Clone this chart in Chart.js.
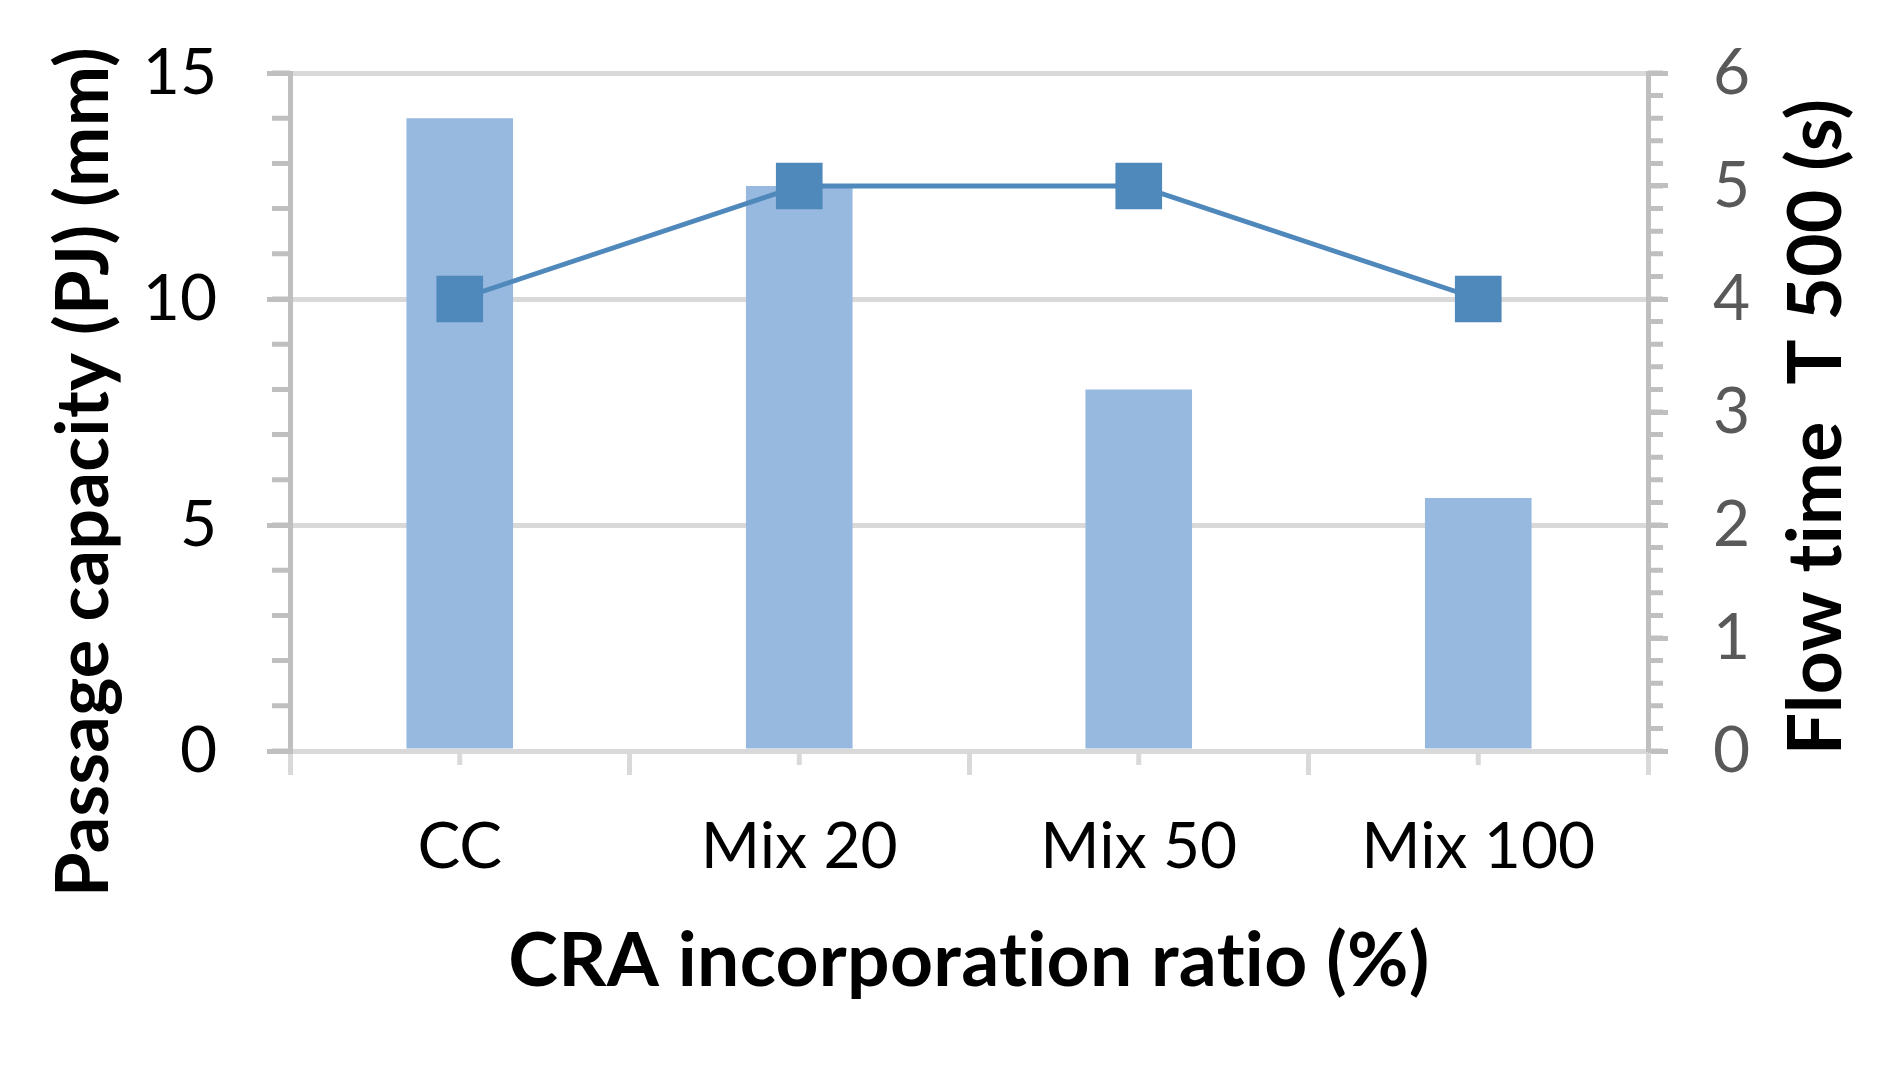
<!DOCTYPE html>
<html>
<head>
<meta charset="utf-8">
<script src="https://cdn.jsdelivr.net/npm/chart.js@4/dist/chart.umd.min.js"></script>
<style>
  html, body { margin: 0; padding: 0; background: #fff; }
  #wrap { width: 1902px; height: 1069px; }
</style>
</head>
<body>
<div id="wrap"><canvas id="flowChart"></canvas></div>
<script>
// data
const categories = ['CC', 'Mix 20', 'Mix 50', 'Mix 100']
const passageCapacity = [14, 12.5, 8, 5.6]   // left axis, bars
const flowTime = [4, 5, 5, 4]                // right axis, line
const leftTicks = [0, 5, 10, 15]
const rightTicks = [0, 1, 2, 3, 4, 5, 6]
const leftMinorStep = 1
const rightMinorStep = 0.2

const xTitle = 'CRA incorporation ratio (%)'
const leftTitle = 'Passage capacity (PJ) (mm)'
const rightTitle = 'Flow time  T 500 (s)'

const FONT = 'Lato'
const barColor = '#98b9df'
const lineColor = '#4f88bb'
const axisGray = '#bfbfbf'
const gridGray = '#d9d9d9'

// minor ticks (shorter) + centre ticks on the category axis
const minorTicks = {
  id: 'minorTicks',
  afterDraw(chart) {
    const ctx = chart.ctx
    const { x, y, y1 } = chart.scales
    ctx.save()
    ctx.lineWidth = 5
    ctx.strokeStyle = axisGray
    ctx.beginPath()
    let n = Math.round((y.max - y.min) / leftMinorStep)
    for (let i = 0; i <= n; i++) {
      const py = y.getPixelForValue(y.min + i * leftMinorStep)
      ctx.moveTo(y.right - 18, py)
      ctx.lineTo(y.right, py)
    }
    n = Math.round((y1.max - y1.min) / rightMinorStep)
    for (let i = 0; i <= n; i++) {
      const py = y1.getPixelForValue(y1.min + i * rightMinorStep)
      ctx.moveTo(y1.left, py)
      ctx.lineTo(y1.left + 15, py)
    }
    ctx.stroke()
    ctx.strokeStyle = gridGray
    ctx.beginPath()
    categories.forEach((c, i) => {
      const px = x.getPixelForValue(i)
      ctx.moveTo(px, x.top)
      ctx.lineTo(px, x.top + 14)
    })
    ctx.stroke()
    ctx.restore()
  }
}

// axis titles (letterSpacing keeps Lato from using its "ti" ligature)
const axisTitles = {
  id: 'axisTitles',
  afterDraw(chart) {
    const ctx = chart.ctx
    const area = chart.chartArea
    ctx.save()
    ctx.fillStyle = '#000'
    ctx.textAlign = 'center'
    ctx.textBaseline = 'alphabetic'
    ctx.letterSpacing = '0.3px'
    ctx.font = `bold 75px ${FONT}`
    ctx.fillText(xTitle, (area.left + area.right) / 2, 986)

    ctx.font = `bold 72px ${FONT}`
    ctx.translate(108, 472)
    ctx.rotate(-Math.PI / 2)
    ctx.fillText(leftTitle, 0, 0)
    ctx.restore()

    ctx.save()
    ctx.fillStyle = '#000'
    ctx.textAlign = 'center'
    ctx.textBaseline = 'alphabetic'
    ctx.letterSpacing = '0.3px'
    ctx.font = `bold 75px ${FONT}`
    ctx.translate(1841, 427)
    ctx.rotate(-Math.PI / 2)
    ctx.fillText(rightTitle, 0, 0)
    ctx.restore()
  }
}

const data = {
  labels: categories,
  datasets: [
    {
      type: 'line',
      label: 'Flow time T500',
      data: flowTime,
      yAxisID: 'y1',
      borderColor: lineColor,
      borderWidth: 5,
      pointStyle: 'rect',
      pointRadius: 33,
      pointBackgroundColor: lineColor,
      pointBorderColor: lineColor,
      pointBorderWidth: 0,
      tension: 0,
      order: 0
    },
    {
      type: 'bar',
      label: 'Passage capacity',
      data: passageCapacity,
      yAxisID: 'y',
      backgroundColor: barColor,
      categoryPercentage: 1,
      barPercentage: 0.314,
      order: 1
    }
  ]
}

const config = {
  type: 'bar',
  data: data,
  options: {
    responsive: true,
    maintainAspectRatio: false,
    animation: false,
    layout: { padding: { top: 73, left: 0, right: 0, bottom: 0 } },
    plugins: {
      legend: { display: false },
      tooltip: { enabled: false }
    },
    scales: {
      x: {
        offset: true,
        grid: { offset: true, drawOnChartArea: false, tickLength: 24, tickColor: gridGray, tickWidth: 5 },
        border: { color: gridGray, width: 5 },
        ticks: { font: { family: FONT, size: 64 }, color: '#000', padding: 34, maxRotation: 0 },
        afterFit: s => { s.height = 318 }
      },
      y: {
        position: 'left',
        min: 0,
        max: 15,
        afterBuildTicks: s => { s.ticks = leftTicks.map(v => ({ value: v })) },
        grid: { color: gridGray, lineWidth: 5, tickColor: axisGray, tickLength: 23, tickWidth: 5 },
        border: { color: axisGray, width: 5 },
        ticks: { font: { family: FONT, size: 64 }, color: '#000', padding: 50 },
        afterFit: s => { s.width = 290; s.paddingTop = 0; s.paddingBottom = 0 }
      },
      y1: {
        position: 'right',
        min: 0,
        max: 6,
        afterBuildTicks: s => { s.ticks = rightTicks.map(v => ({ value: v })) },
        grid: { drawOnChartArea: false, tickColor: axisGray, tickLength: 20, tickWidth: 5 },
        border: { color: axisGray, width: 5 },
        ticks: { font: { family: FONT, size: 64 }, color: '#595959', padding: 45 },
        afterFit: s => { s.width = 254; s.paddingTop = 0; s.paddingBottom = 0 }
      }
    }
  },
  plugins: [minorTicks, axisTitles]
}

const flowChart = new Chart(document.querySelector('#flowChart'), config)
</script>
</body>
</html>
